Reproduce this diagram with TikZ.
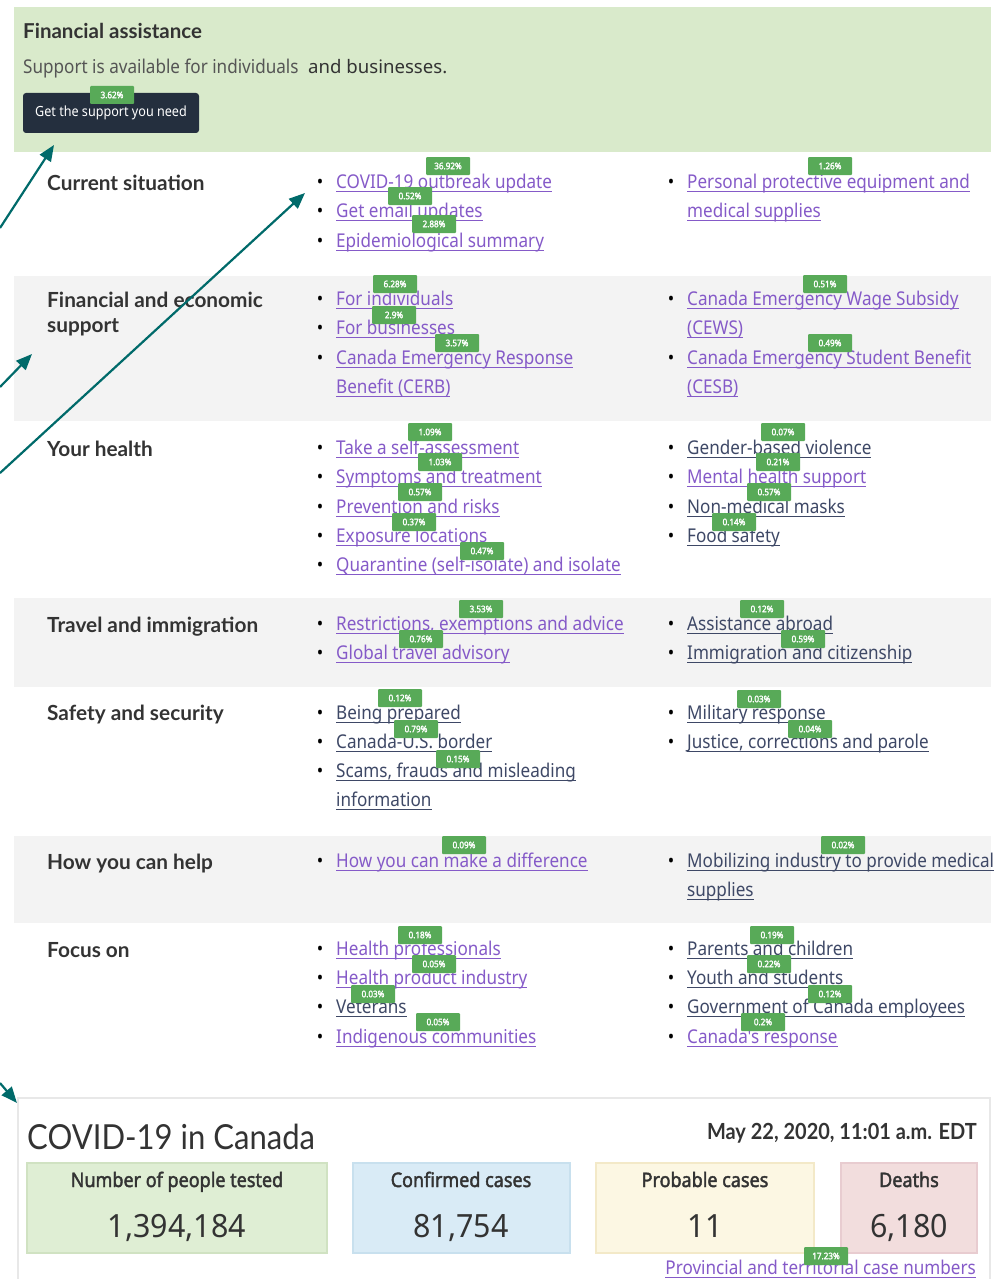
\documentclass[tikz,border=0pt]{standalone}
\usepackage{fontspec}
\setmainfont{Noto Sans}
\newfontfamily\latofont{Lato}
\newfontfamily\latonarrow[FakeStretch=0.9]{Lato}
\newfontfamily\linkfont[FakeStretch=0.9]{Noto Sans}
\newfontfamily\heavyfont[FakeStretch=0.9, FakeBold=2]{Noto Sans}
\newfontfamily\numfont[FakeStretch=0.95]{Noto Sans}
\usetikzlibrary{arrows.meta}

\definecolor{headergreen}{RGB}{217,234,203}
\definecolor{rowgrey}{RGB}{243,243,243}
\definecolor{btnnavy}{RGB}{36,47,62}
\definecolor{badgegreen}{RGB}{88,170,88}
\definecolor{arrowteal}{RGB}{0,106,106}
\definecolor{titlegrey}{RGB}{51,51,51}
\definecolor{textgrey}{RGB}{85,85,85}
\definecolor{linkpurple}{RGB}{133,90,200}
\definecolor{linkslate}{RGB}{62,72,102}
\definecolor{panelline}{RGB}{232,232,232}
\definecolor{statgreen}{RGB}{223,238,212}
\definecolor{statgreenline}{RGB}{208,226,194}
\definecolor{statblue}{RGB}{217,235,246}
\definecolor{statblueline}{RGB}{200,224,238}
\definecolor{statcream}{RGB}{252,247,227}
\definecolor{statcreamline}{RGB}{243,233,200}
\definecolor{statpink}{RGB}{242,221,221}
\definecolor{statpinkline}{RGB}{232,204,208}

% underlined link text and list bullet
\newcommand{\lk}[1]{\setbox0=\hbox{#1}\rlap{\rule[-3.5pt]{\wd0}{1pt}}\box0}
\newcommand{\bul}{\llap{\textcolor{black}{\textbullet}\hspace{13pt}}}

\begin{document}
\begin{tikzpicture}[x=1pt, y=-1pt,
  row_title/.style={anchor=base west, inner sep=0pt, text=titlegrey, font=\latofont\bfseries\fontsize{20.8}{24}\selectfont},
  link_purple/.style={anchor=base west, inner sep=0pt, text=linkpurple, font=\linkfont\fontsize{19}{22}\selectfont},
  link_slate/.style={link_purple, text=linkslate},
  badge/.style={fill=badgegreen, text=white, inner sep=1pt, minimum width=44pt, minimum height=18pt, rounded corners=1pt, font=\heavyfont\fontsize{9}{10}\selectfont},
  stat_label/.style={anchor=base, inner sep=0pt, text=titlegrey, font=\heavyfont\fontsize{20}{24}\selectfont},
  stat_value/.style={anchor=base, inner sep=0pt, text=titlegrey, font=\numfont\fontsize{32}{36}\selectfont},
  pointer/.style={draw=arrowteal, line width=2.2pt, -{Triangle[length=16pt,width=13pt]}}]

\useasboundingbox (0,0) rectangle (999,1279);

% backgrounds
\fill[headergreen] (14,7) rectangle (991,152);
\fill[rowgrey] (14,276) rectangle (991,421);
\fill[rowgrey] (14,598) rectangle (991,687);
\fill[rowgrey] (14,836) rectangle (991,923);
\draw[panelline, line width=2pt] (18,1098) rectangle (990,1290);

% financial assistance
\node[anchor=base west, inner sep=0pt, text=titlegrey, font=\latofont\bfseries\fontsize{20.5}{24}\selectfont] (fa_title) at (23,39) {Financial assistance};
\node[anchor=base west, inner sep=0pt, text=textgrey, font=\linkfont\fontsize{19}{22}\selectfont] (fa_text) at (23,74) {Support is available for individuals};
\node[anchor=base west, inner sep=0pt, text=titlegrey, font=\fontsize{18.6}{22}\selectfont] (fa_more) at (308,74) {and businesses.};
\node[fill=btnnavy, rounded corners=3pt, minimum width=176pt, minimum height=40pt, inner sep=0pt, text=white, font=\linkfont\fontsize{14}{16}\selectfont] (fa_btn) at (111,113) {\raisebox{-2pt}{Get the support you need}};
\node[badge] (fa_pct) at (112,95) {3.62\%};

% current situation
\node[row_title] (cur) at (47,190) {Current situation};
\node[link_purple] (cur_1) at (336,188) {\bul\lk{COVID-19 outbreak update}};
\node[link_purple] (cur_2) at (336,217) {\bul\lk{Get email updates}};
\node[link_purple] (cur_3) at (336,247) {\bul\lk{Epidemiological summary}};
\node[link_purple] (cur_4) at (687,188) {\bul\lk{Personal protective equipment and}};
\node[link_purple] (cur_5) at (687,217) {\lk{medical supplies}};

% financial and economic support
\node[row_title] (fin) at (47,307) {Financial and economic};
\node[row_title] (fin_b) at (47,332) {support};
\node[link_purple] (fin_1) at (336,305) {\bul\lk{For individuals}};
\node[link_purple] (fin_2) at (336,334) {\bul\lk{For businesses}};
\node[link_purple] (fin_3) at (336,364) {\bul\lk{Canada Emergency Response}};
\node[link_purple] (fin_4) at (336,393) {\lk{Benefit (CERB)}};
\node[link_purple] (fin_5) at (687,305) {\bul\lk{Canada Emergency Wage Subsidy}};
\node[link_purple] (fin_6) at (687,334) {\lk{(CEWS)}};
\node[link_purple] (fin_7) at (687,364) {\bul\lk{Canada Emergency Student Benefit}};
\node[link_purple] (fin_8) at (687,393) {\lk{(CESB)}};

% your health
\node[row_title] (hlt) at (47,456) {Your health};
\node[link_purple] (hlt_1) at (336,454) {\bul\lk{Take a self-assessment}};
\node[link_purple] (hlt_2) at (336,483) {\bul\lk{Symptoms and treatment}};
\node[link_purple] (hlt_3) at (336,513) {\bul\lk{Prevention and risks}};
\node[link_purple] (hlt_4) at (336,542) {\bul\lk{Exposure locations}};
\node[link_purple] (hlt_5) at (336,571) {\bul\lk{Quarantine (self-isolate) and isolate}};
\node[link_slate] (hlt_6) at (687,454) {\bul\lk{Gender-based violence}};
\node[link_purple] (hlt_7) at (687,483) {\bul\lk{Mental health support}};
\node[link_slate] (hlt_8) at (687,513) {\bul\lk{Non-medical masks}};
\node[link_slate] (hlt_9) at (687,542) {\bul\lk{Food safety}};

% travel and immigration
\node[row_title] (trv) at (47,632) {Travel and immigration};
\node[link_purple] (trv_1) at (336,630) {\bul\lk{Restrictions, exemptions and advice}};
\node[link_purple] (trv_2) at (336,659) {\bul\lk{Global travel advisory}};
\node[link_slate] (trv_3) at (687,630) {\bul\lk{Assistance abroad}};
\node[link_slate] (trv_4) at (687,659) {\bul\lk{Immigration and citizenship}};

% safety and security
\node[row_title] (saf) at (47,720) {Safety and security};
\node[link_slate] (saf_1) at (336,719) {\bul\lk{Being prepared}};
\node[link_slate] (saf_2) at (336,748) {\bul\lk{Canada-U.S. border}};
\node[link_slate] (saf_3) at (336,777) {\bul\lk{Scams, frauds and misleading}};
\node[link_slate] (saf_4) at (336,806) {\lk{information}};
\node[link_slate] (saf_5) at (687,719) {\bul\lk{Military response}};
\node[link_slate] (saf_6) at (687,748) {\bul\lk{Justice, corrections and parole}};

% how you can help
\node[row_title] (hlp) at (47,869) {How you can help};
\node[link_purple] (hlp_1) at (336,867) {\bul\lk{How you can make a difference}};
\node[link_slate] (hlp_2) at (687,867) {\bul\lk{Mobilizing industry to provide medical}};
\node[link_slate] (hlp_3) at (687,896) {\lk{supplies}};

% focus on
\node[row_title] (foc) at (47,957) {Focus on};
\node[link_purple] (foc_1) at (336,955) {\bul\lk{Health professionals}};
\node[link_purple] (foc_2) at (336,984) {\bul\lk{Health product industry}};
\node[link_slate] (foc_3) at (336,1013) {\bul\lk{Veterans}};
\node[link_purple] (foc_4) at (336,1043) {\bul\lk{Indigenous communities}};
\node[link_slate] (foc_5) at (687,955) {\bul\lk{Parents and children}};
\node[link_slate] (foc_6) at (687,984) {\bul\lk{Youth and students}};
\node[link_slate] (foc_7) at (687,1013) {\bul\lk{Government of Canada employees}};
\node[link_purple] (foc_8) at (687,1043) {\bul\lk{Canada's response}};

% click shares
\node[badge] (cur_1p) at (448,166) {36.92\%};
\node[badge] (cur_2p) at (410,196) {0.52\%};
\node[badge] (cur_3p) at (434,224) {2.88\%};
\node[badge] (cur_4p) at (830,166) {1.26\%};
\node[badge] (fin_1p) at (395,284) {6.28\%};
\node[badge] (fin_2p) at (394,315) {2.9\%};
\node[badge] (fin_3p) at (457,343) {3.57\%};
\node[badge] (fin_5p) at (825,284) {0.51\%};
\node[badge] (fin_7p) at (830,343) {0.49\%};
\node[badge] (hlt_1p) at (430,432) {1.09\%};
\node[badge] (hlt_2p) at (440,462) {1.03\%};
\node[badge] (hlt_3p) at (420,492) {0.57\%};
\node[badge] (hlt_4p) at (414,522) {0.37\%};
\node[badge] (hlt_5p) at (482,551) {0.47\%};
\node[badge] (hlt_6p) at (783,432) {0.07\%};
\node[badge] (hlt_7p) at (778,462) {0.21\%};
\node[badge] (hlt_8p) at (769,492) {0.57\%};
\node[badge] (hlt_9p) at (734,522) {0.14\%};
\node[badge] (trv_1p) at (481,609) {3.53\%};
\node[badge] (trv_2p) at (421,639) {0.76\%};
\node[badge] (trv_3p) at (762,609) {0.12\%};
\node[badge] (trv_4p) at (803,639) {0.59\%};
\node[badge] (saf_1p) at (400,698) {0.12\%};
\node[badge] (saf_2p) at (416,729) {0.79\%};
\node[badge] (saf_3p) at (458,759) {0.15\%};
\node[badge] (saf_5p) at (759,699) {0.03\%};
\node[badge] (saf_6p) at (810,729) {0.04\%};
\node[badge] (hlp_1p) at (464,845) {0.09\%};
\node[badge] (hlp_2p) at (843,845) {0.02\%};
\node[badge] (foc_1p) at (420,935) {0.18\%};
\node[badge] (foc_2p) at (434,964) {0.05\%};
\node[badge] (foc_3p) at (373,994) {0.03\%};
\node[badge] (foc_4p) at (438,1022) {0.05\%};
\node[badge] (foc_5p) at (772,935) {0.19\%};
\node[badge] (foc_6p) at (769,964) {0.22\%};
\node[badge] (foc_7p) at (830,994) {0.12\%};
\node[badge] (foc_8p) at (763,1022) {0.2\%};

% covid-19 in canada panel
\node[anchor=base west, inner sep=0pt, text=titlegrey, font=\latonarrow\fontsize{34.5}{38}\selectfont] (cov) at (27,1149) {COVID-19 in Canada};
\node[anchor=base east, inner sep=0pt, text=titlegrey, font=\latonarrow\bfseries\fontsize{22.2}{25}\selectfont] (cov_date) at (977,1139) {May 22, 2020, 11:01 a.m. EDT};
\filldraw[fill=statgreen, draw=statgreenline, line width=1.5pt] (27,1163) rectangle (327,1253);
\filldraw[fill=statblue, draw=statblueline, line width=1.5pt] (353,1163) rectangle (570,1253);
\filldraw[fill=statcream, draw=statcreamline, line width=1.5pt] (596,1163) rectangle (814,1253);
\filldraw[fill=statpink, draw=statpinkline, line width=1.5pt] (841,1163) rectangle (977,1253);
\node[stat_label] (st_1) at (177,1187) {Number of people tested};
\node[stat_value] (st_1v) at (177,1237) {1,394,184};
\node[stat_label] (st_2) at (461,1187) {Confirmed cases};
\node[stat_value] (st_2v) at (461,1237) {81,754};
\node[stat_label] (st_3) at (705,1187) {Probable cases};
\node[stat_value] (st_3v) at (705,1237) {11};
\node[stat_label] (st_4) at (909,1187) {Deaths};
\node[stat_value] (st_4v) at (909,1237) {6,180};
\node[link_purple, anchor=base east] (cov_link) at (976,1274) {\lk{Provincial and territorial case numbers}};
\node[badge] (cov_linkp) at (826,1256) {17.23\%};

% pointers
\coordinate (p1_from) at (0,228);
\coordinate (p1_to) at (54,145);
\coordinate (p2_from) at (0,387);
\coordinate (p2_to) at (32,354);
\coordinate (p3_from) at (0,473);
\coordinate (p3_to) at (305,193);
\coordinate (p4_from) at (0,1083);
\coordinate (p4_to) at (17,1103);
\draw[pointer] (p1_from) -- (p1_to);
\draw[pointer] (p2_from) -- (p2_to);
\draw[pointer] (p3_from) -- (p3_to);
\draw[pointer] (p4_from) -- (p4_to);

\end{tikzpicture}
\end{document}
